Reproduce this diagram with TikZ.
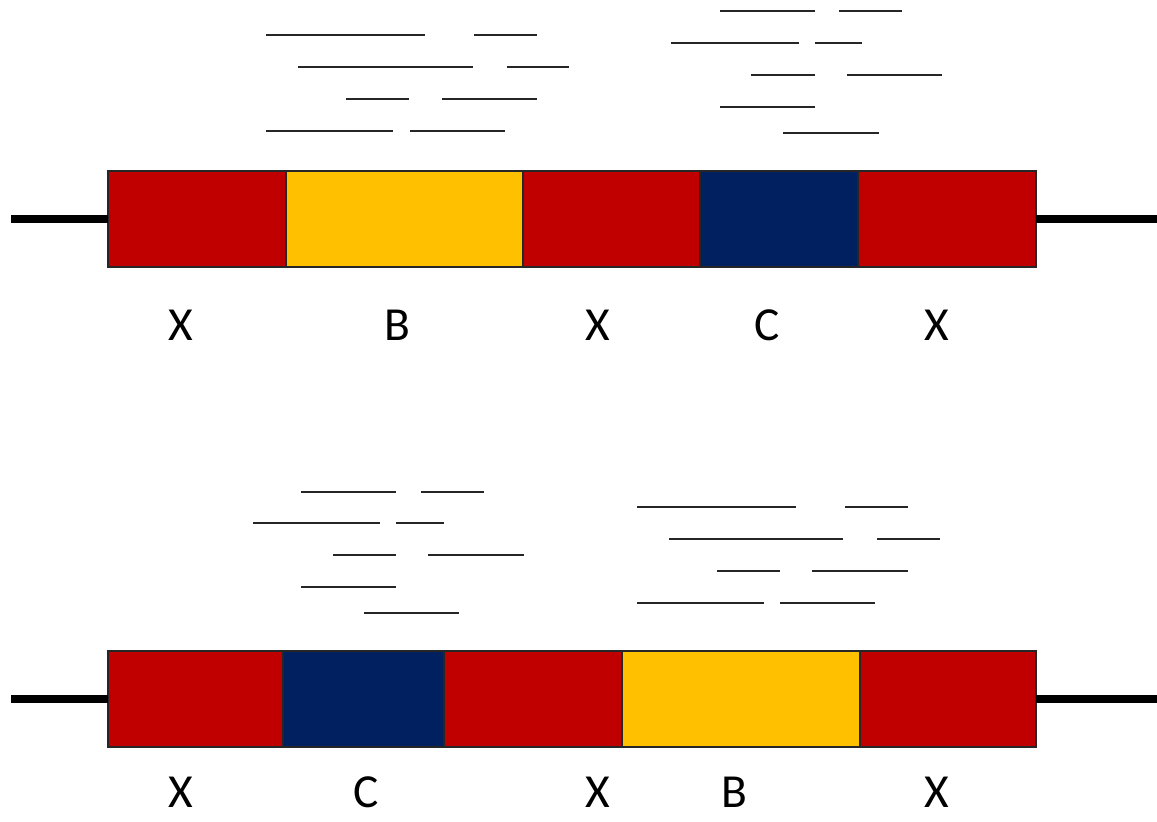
\documentclass[tikz,border=0pt]{standalone}
\usepackage{fontspec}
\setsansfont{Carlito}
\usetikzlibrary{positioning}
\definecolor{segx}{HTML}{C00000}
\definecolor{segb}{HTML}{FFC000}
\definecolor{segc}{HTML}{002060}

\begin{document}
\begin{tikzpicture}[
    x=0.02cm, y=-0.02cm,
    font=\sffamily,
    seg/.style={draw=black!85, line width=1pt, minimum height=1.92cm,
                inner sep=0pt, outer sep=0pt},
    stub/.style={black, line width=4pt},
    rule/.style={black!85, line width=1.1pt},
    lab/.style={font=\fontsize{27}{30}\selectfont\sffamily, inner sep=0pt},
]
\useasboundingbox (0,0) rectangle (1157,822);

% ---- Top chromosome: X B X C X ----
\foreach \i/\a/\b/\col in {1/108/286/segx, 2/286/523/segb, 3/523/700/segx,
                           4/700/858/segc, 5/858/1036/segx}
    \node[seg, fill=\col, minimum width={(\b-\a)*0.02cm}] (t\i)
        at ({(\a+\b)/2},219) {};
\coordinate (tl) at (11,219);
\coordinate (tr) at (1157,219);
\draw[stub] (tl) -- (t1.west);
\draw[stub] (t5.east) -- (tr);
\foreach \i/\x/\txt in {1/181/X, 2/397/B, 3/598/X, 4/767/C, 5/937/X}
    \node[lab] (lt\i) at (\x,325) {\txt};

% reads over B and C
\foreach \y/\a/\b in {35/266/425, 35/474/537, 67/298/473, 67/507/569,
                      99/346/409, 99/442/537, 131/266/393, 131/410/505,
                      11/720/815, 11/839/902, 43/671/799, 43/815/862,
                      75/751/815, 75/847/942, 107/720/815, 133/783/879}
    \draw[rule] (\a,\y) -- (\b,\y);

% ---- Bottom chromosome: X C X B X ----
\foreach \i/\a/\b/\col in {1/108/283/segx, 2/283/444/segc, 3/444/622/segx,
                           4/622/860/segb, 5/860/1036/segx}
    \node[seg, fill=\col, minimum width={(\b-\a)*0.02cm}] (u\i)
        at ({(\a+\b)/2},699) {};
\coordinate (ul) at (11,699);
\coordinate (ur) at (1157,699);
\draw[stub] (ul) -- (u1.west);
\draw[stub] (u5.east) -- (ur);
\foreach \i/\x/\txt in {1/181/X, 2/366/C, 3/598/X, 4/734/B, 5/937/X}
    \node[lab] (lu\i) at (\x,792) {\txt};

% reads over C and B
\foreach \y/\a/\b in {492/301/396, 492/421/484, 523/253/380, 523/396/444,
                      555/333/396, 555/428/524, 587/301/396, 613/364/459,
                      507/637/796, 507/845/908, 539/669/843, 539/877/940,
                      571/717/780, 571/812/908, 603/637/764, 603/780/875}
    \draw[rule] (\a,\y) -- (\b,\y);
\end{tikzpicture}
\end{document}
